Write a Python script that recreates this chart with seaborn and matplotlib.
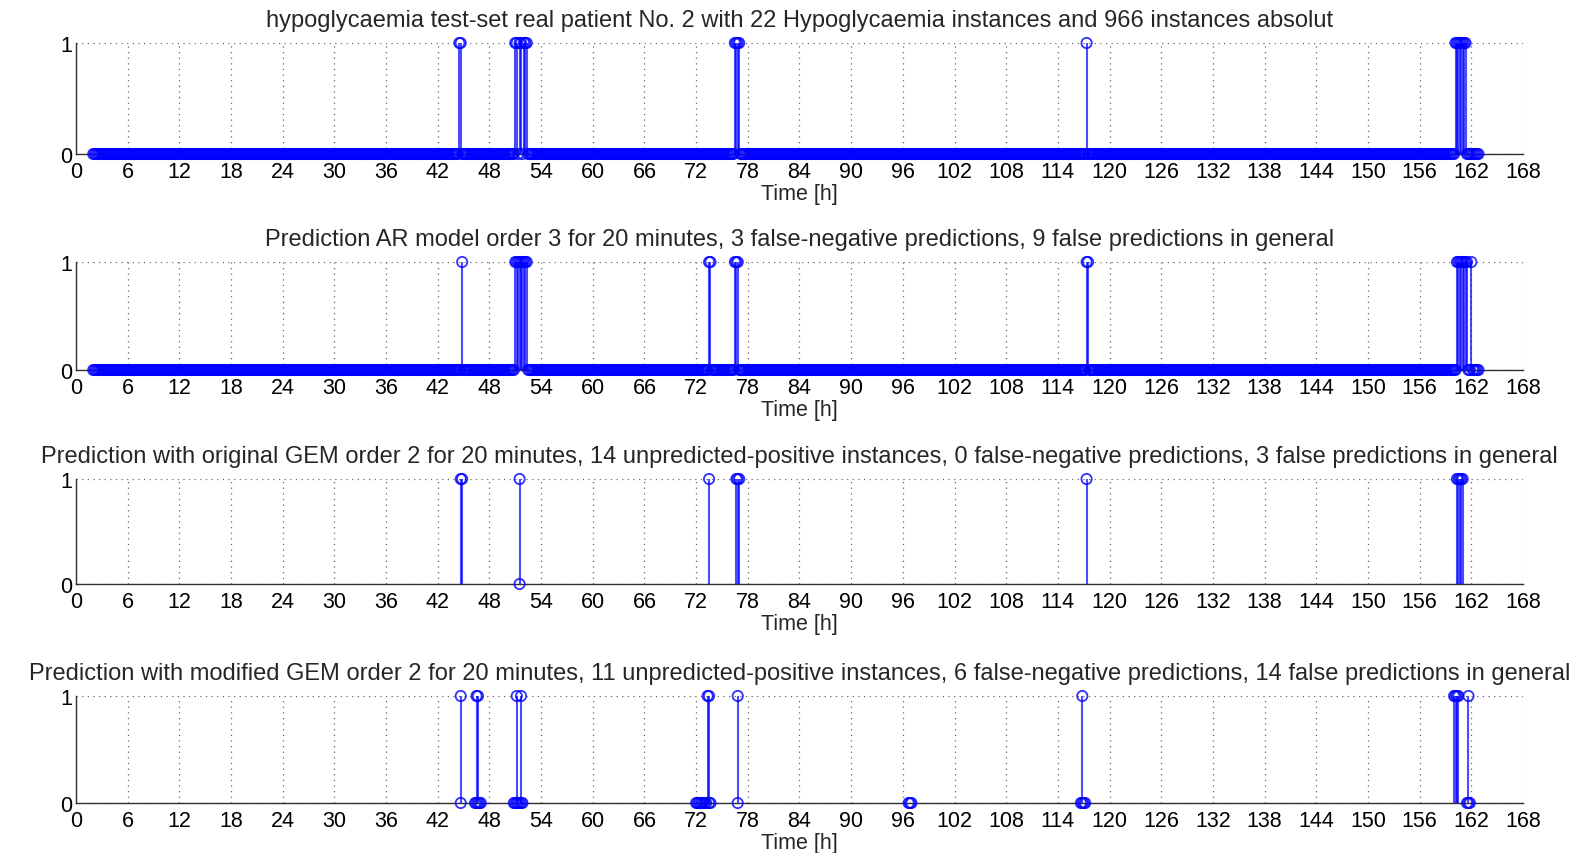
import numpy as np
import pandas as pd
import matplotlib
matplotlib.use("Agg")
import matplotlib.pyplot as plt
import seaborn as sns

# ---------------- data ----------------
n_samples = 966          # instances (10-minute sampling)
t_start = 2.0            # first sample [h]
t_step = 1.0 / 6.0       # 10 minutes [h]

xticks = list(range(0, 169, 6))

titles = [
    "hypoglycaemia test-set real patient No. 2 with 22 Hypoglycaemia instances and 966 instances absolut",
    "Prediction AR model order 3 for 20 minutes, 3 false-negative predictions, 9 false predictions in general",
    "Prediction with original GEM order 2 for 20 minutes, 14 unpredicted-positive instances, 0 false-negative predictions, 3 false predictions in general",
    "Prediction with modified GEM order 2 for 20 minutes, 11 unpredicted-positive instances, 6 false-negative predictions, 14 false predictions in general",
]

# panel 1: real hypoglycaemia instances (times where value = 1)
real_pos_times = [44.5, 44.67,
                  51.0, 51.17, 51.5, 51.67, 52.0, 52.17, 52.33,
                  76.5, 76.67, 76.83, 77.0,
                  117.33,
                  160.17, 160.33, 160.5, 160.67, 160.83, 161.0, 161.17, 161.33]

# panel 2: AR prediction (times where value = 1)
ar_pos_times = [44.83,
                51.0, 51.17, 51.33, 51.5, 51.67, 51.83, 52.0, 52.17, 52.33,
                73.5, 73.67,
                76.5, 76.67, 76.83,
                117.33, 117.5,
                160.33, 160.5, 160.67, 160.83, 161.0, 161.17, 161.33, 161.5,
                162.0]

# panel 3: original GEM (only the plotted points)
gem_times = [44.67, 44.83, 51.5, 51.5, 73.5, 76.67, 76.83, 77.0, 117.33,
             160.33, 160.5, 160.67, 160.83, 161.0]
gem_vals = [1, 1, 1, 0, 1, 1, 1, 1, 1,
            1, 1, 1, 1, 1]

# panel 4: modified GEM (only the plotted points)
mgem_times = [44.67, 44.67,
              46.5, 46.67, 46.33, 46.5, 46.67, 46.83, 47.0,
              51.17, 51.67, 50.83, 51.0, 51.17, 51.33, 51.5, 51.67, 51.83,
              73.33, 73.5, 72.0, 72.17, 72.33, 72.5, 72.67, 72.83, 73.0, 73.17, 73.5, 73.67,
              76.83, 76.83,
              96.67, 96.83, 97.0,
              116.83, 116.67, 116.83, 117.0, 117.17,
              160.0, 160.17, 160.33, 160.5, 161.67, 161.5, 161.67, 161.83]
mgem_vals = [1, 0,
             1, 1, 0, 0, 0, 0, 0,
             1, 1, 0, 0, 0, 0, 0, 0, 0,
             1, 1, 0, 0, 0, 0, 0, 0, 0, 0, 0, 0,
             1, 0,
             0, 0, 0,
             1, 0, 0, 0, 0,
             1, 1, 1, 1, 1, 0, 0, 0]

# ---------------- build series ----------------
sample_t = t_start + t_step * np.arange(n_samples)

def full_series(pos_times):
    v = np.zeros(n_samples)
    idx = np.rint((np.array(pos_times) - t_start) / t_step).astype(int)
    v[idx] = 1
    return sample_t, v

series = [
    full_series(real_pos_times),
    full_series(ar_pos_times),
    (np.array(gem_times), np.array(gem_vals, dtype=float)),
    (np.array(mgem_times), np.array(mgem_vals, dtype=float)),
]

# ---------------- plot ----------------
sns.set_style("white")
plt.rcParams['font.family'] = ['Liberation Sans', 'DejaVu Sans']

fig = plt.figure(figsize=(15.8, 8.54), dpi=100)
W, H = 1580.0, 854.0
left_px, right_px = 76, 1523
panels_px = [(44, 155), (263, 371), (480, 585), (697, 804)]

blue = '#0000ff'
fs_tick = 15.5
fs_title = 17
fs_label = 15.5

for k, ((top, bot), (t, v), title) in enumerate(zip(panels_px, series, titles)):
    ax = fig.add_axes([left_px / W, 1 - bot / H, (right_px - left_px) / W, (bot - top) / H])
    ax.set_xlim(0, 168)
    ax.set_ylim(0, 1)
    ax.set_xticks(xticks)
    ax.set_yticks([0, 1])
    ax.grid(True, linestyle=(0, (1, 3.5)), color='#666666', linewidth=0.9)
    ax.set_axisbelow(True)
    for s in ['top', 'right']:
        ax.spines[s].set_visible(False)
    for s in ['left', 'bottom']:
        ax.spines[s].set_color('#303030')
        ax.spines[s].set_linewidth(1.0)
    ax.tick_params(direction='in', length=10.4, width=1.0, color='#303030',
                   labelsize=fs_tick, labelcolor='black')
    ax.tick_params(axis='x', pad=5)
    ax.tick_params(axis='y', pad=3)

    # stems
    mask = v > 0
    ax.vlines(t[mask], 0, v[mask], color=blue, linewidth=1.5, alpha=0.7, zorder=3)

    df = pd.DataFrame({'t': t, 'v': v})
    sns.scatterplot(data=df, x='t', y='v', ax=ax, marker='o', s=55,
                    facecolor='none', edgecolor=blue, linewidth=1.3,
                    alpha=0.8, zorder=4, clip_on=False, legend=False)

    ax.set_title(title, fontsize=fs_title, pad=12)
    ax.set_xlabel("Time [h]", fontsize=fs_label, labelpad=1)
    ax.set_ylabel("")

fig.savefig("out.png", dpi=100)
